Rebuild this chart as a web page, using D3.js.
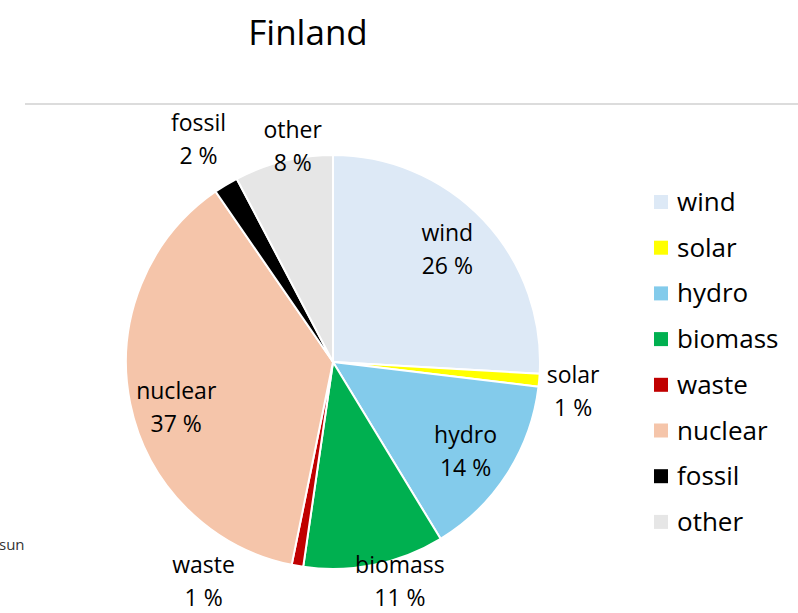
<!DOCTYPE html>
<html>
<head>
<meta charset="utf-8">
<script src="https://cdn.jsdelivr.net/npm/d3@7"></script>
<style>
  body { margin: 0; background: #fff; }
  svg { font-family: "Open Sans", sans-serif; }
</style>
</head>
<body>
<div id="chart"></div>
<script>
// share of electricity production, Finland (percent)
var sources = ["wind", "solar", "hydro", "biomass", "waste", "nuclear", "fossil", "other"];
var shares  = [25.9, 1.0, 14.4, 11.0, 0.9, 37.2, 1.9, 7.7];
var colors  = ["#dde9f6", "#ffff00", "#83cbeb", "#00b050", "#c00000", "#f5c5aa", "#000000", "#e6e6e6"];
// which labels sit inside the slice
var inside  = [true, false, true, false, false, true, false, false];
// small shifts for the labels, like the excel "best fit"
var nudge   = [[-2,-2],[6,9],[-2,3],[20,-10],[-89,-12],[0,14],[-13,-21],[16,13]];

var width = 798, height = 613;
var cx = 333, cy = 362, radius = 207;

var svg = d3.select("#chart").append("svg")
    .attr("width", width)
    .attr("height", height);

// title + separator line
svg.append("text")
    .attr("x", 308).attr("y", 45)
    .attr("text-anchor", "middle")
    .attr("font-size", 35)
    .text("Finland");

svg.append("line")
    .attr("x1", 25).attr("x2", width)
    .attr("y1", 104).attr("y2", 104)
    .attr("stroke", "#d0d0d0").attr("stroke-width", 1.5);

svg.append("text")
    .attr("x", -1).attr("y", 550)
    .attr("font-size", 15)
    .attr("fill", "#333")
    .text("sun");

var data = sources.map(function(s, i){ return {label: s, value: shares[i], i: i}; });

var pie = d3.pie()
    .value(function(d){ return d.value; })
    .sort(null);

var arc = d3.arc().innerRadius(0).outerRadius(radius);
var inArc = d3.arc().innerRadius(160).outerRadius(160);
var outArc = d3.arc().innerRadius(235).outerRadius(235);

var g = svg.append("g").attr("transform", "translate(" + cx + "," + cy + ")");

var arcs = pie(data);

g.selectAll("path")
    .data(arcs)
    .enter()
    .append("path")
    .attr("d", arc)
    .attr("fill", function(d){ return colors[d.data.i]; })
    .attr("stroke", "#fff")
    .attr("stroke-width", 2)
    .attr("stroke-linejoin", "round");

var fmt = function(v){ return Math.round(v) + " %"; };

var labels = g.selectAll("g.lbl")
    .data(arcs)
    .enter()
    .append("g")
    .attr("class", "lbl")
    .attr("transform", function(d){
        var i = d.data.i;
        var p = inside[i] ? inArc.centroid(d) : outArc.centroid(d);
        return "translate(" + (p[0] + nudge[i][0]) + "," + (p[1] + nudge[i][1]) + ")";
    });

labels.append("text")
    .attr("text-anchor", "middle")
    .attr("font-size", 23)
    .attr("y", -9)
    .text(function(d){ return d.data.label; });

labels.append("text")
    .attr("text-anchor", "middle")
    .attr("font-size", 23)
    .attr("y", 24)
    .text(function(d){ return fmt(d.data.value); });

// legend
var legend = svg.append("g").attr("transform", "translate(654,202)");
var rowH = 45.7;

var rows = legend.selectAll("g")
    .data(sources)
    .enter()
    .append("g")
    .attr("transform", function(d, i){ return "translate(0," + (i * rowH) + ")"; });

rows.append("rect")
    .attr("x", 0).attr("y", -7)
    .attr("width", 14).attr("height", 14)
    .attr("fill", function(d, i){ return colors[i]; });

rows.append("text")
    .attr("x", 23).attr("y", 9)
    .attr("font-size", 26)
    .text(function(d){ return d; });
</script>
</body>
</html>
